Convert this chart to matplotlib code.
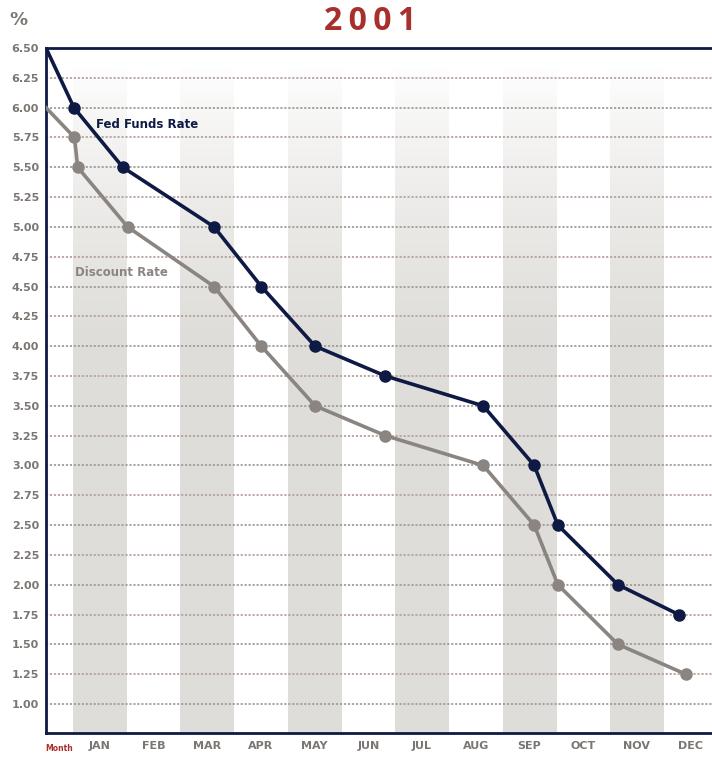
import numpy as np
import matplotlib
matplotlib.use("Agg")
import matplotlib.pyplot as plt
from matplotlib.colors import LinearSegmentedColormap

months = ["JAN", "FEB", "MAR", "APR", "MAY", "JUN", "JUL", "AUG", "SEP", "OCT", "NOV", "DEC"]

# x in month units (JAN centre = 1), first point is the Dec 2000 level at the axis edge
fed_x = [0.0, 0.52, 1.43, 3.13, 4.01, 5.01, 6.32, 8.14, 9.09, 9.53, 10.65, 11.78]
fed_y = [6.50, 6.00, 5.50, 5.00, 4.50, 4.00, 3.75, 3.50, 3.00, 2.50, 2.00, 1.75]

disc_x = [0.0, 0.53, 0.59, 1.52, 3.13, 4.01, 5.01, 6.32, 8.14, 9.09, 9.53, 10.65, 11.91]
disc_y = [6.00, 5.75, 5.50, 5.00, 4.50, 4.00, 3.50, 3.25, 3.00, 2.50, 2.00, 1.50, 1.25]

yticks = np.arange(1.00, 6.51, 0.25)

NAVY = "#0e1a44"
GREY = "#8b8581"
LABEL = "#7b7672"
RED = "#a8302c"

fig = plt.figure(figsize=(7.12, 7.57), dpi=100)
ax = fig.add_axes([46 / 712, 24 / 757, 666 / 712, 685 / 757])
ax.set_xlim(0, 12.4)
ax.set_ylim(0.757, 6.5)

# stippled bands on odd months, fading out towards the top
cmap = LinearSegmentedColormap.from_list("band", ["#ffffff", "#dfddd9"])
grad = np.clip((6.35 - np.linspace(6.35, 0.757, 200)) / 2.3, 0, 1).reshape(-1, 1) ** 0.8
for m in range(1, 13, 2):
    ax.imshow(grad, cmap=cmap, vmin=0, vmax=1, aspect="auto",
              extent=[m - 0.5, m + 0.5, 0.757, 6.35], zorder=0, interpolation="bilinear")

for i, y in enumerate(yticks[:-1]):
    c = "#b5a3a0" if i % 2 else "#a19d9c"
    ax.axhline(y, color=c, lw=1.3, ls=(0, (1.2, 1.0)), zorder=1)

ax.plot(disc_x, disc_y, color=GREY, lw=2.6, zorder=3)
ax.plot(disc_x[1:], disc_y[1:], "o", color=GREY, ms=8, zorder=4)
ax.plot(fed_x, fed_y, color=NAVY, lw=2.6, zorder=5)
ax.plot(fed_x[1:], fed_y[1:], "o", color=NAVY, ms=8, zorder=6)

ax.text(0.93, 5.86, "Fed Funds Rate", color=NAVY, fontsize=8.5, fontweight="bold",
        va="center", ha="left", zorder=7)
ax.text(0.54, 4.62, "Discount Rate", color=GREY, fontsize=8.5, fontweight="bold",
        va="center", ha="left", zorder=7)

for s in ["left", "top", "bottom"]:
    ax.spines[s].set_color(NAVY)
    ax.spines[s].set_linewidth(2)
ax.spines["right"].set_visible(False)

ax.set_yticks(yticks)
ax.set_yticklabels([f"{v:.2f}" for v in yticks])
ax.set_xticks(range(1, 13))
ax.set_xticklabels(months)
ax.tick_params(length=0, colors=LABEL, labelsize=8)
ax.tick_params(axis="y", pad=5)
ax.tick_params(axis="x", pad=6)
for lab in ax.get_xticklabels() + ax.get_yticklabels():
    lab.set_fontweight("bold")

ax.text(0.24, 0.757 - 0.09, "Month", color=RED, fontsize=5.5, fontweight="bold",
        ha="center", va="top")

fig.text(18 / 712, 1 - 20 / 757, "%", color=LABEL, fontsize=13, fontweight="bold",
         ha="center", va="center")
fig.text(370 / 712, 1 - 21 / 757, "2\u20090\u20090\u20091", color=RED,
         fontsize=23, fontweight="bold", ha="center", va="center", family="Open Sans")

fig.savefig("out.png", dpi=100)
